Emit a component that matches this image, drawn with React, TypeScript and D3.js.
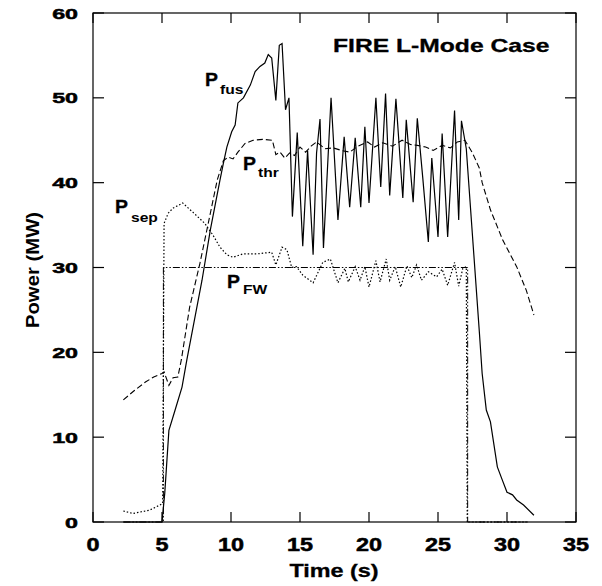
import React from "react";
import * as d3 from "d3";

// time (s), power (MW)
const pFus: [number, number][] = [
  [2.2, 0], [5.0, 0], [5.2, 3.4], [5.5, 10.8], [5.95, 13.2], [6.45, 15.9], [6.8, 19.1],
  [7.9, 28.5], [8.5, 34.4], [9.2, 40.3], [9.45, 42.3], [9.7, 44.2], [10.05, 46.0],
  [10.3, 46.8], [10.5, 49.4], [10.9, 50.0], [11.4, 51.5], [11.75, 53.1], [12.1, 53.7],
  [12.45, 54.1], [12.7, 55.1], [12.95, 54.7], [13.25, 49.7], [13.5, 56.2], [13.7, 56.4],
  [13.95, 48.6], [14.2, 50.0], [14.45, 36.0], [14.8, 45.9], [15.2, 32.5], [15.55, 43.8],
  [15.95, 31.5], [16.2, 43.5], [16.45, 47.5], [16.7, 32.3], [17.25, 50.0], [17.75, 35.6],
  [18.2, 45.4], [18.6, 37.1], [19.0, 45.3], [19.4, 37.1], [19.7, 46.6], [20.0, 37.6],
  [20.5, 50.0], [20.85, 39.5], [21.2, 50.5], [21.5, 38.5], [21.95, 49.9], [22.45, 38.2],
  [22.7, 47.4], [23.2, 37.7], [23.5, 47.6], [23.9, 40.5], [24.3, 33.0], [24.55, 42.9],
  [25.0, 33.6], [25.3, 45.8], [25.7, 33.6], [26.2, 48.5], [26.5, 35.6], [26.7, 47.3],
  [27.05, 44.0], [28.0, 22.3], [28.2, 17.5], [28.5, 13.2], [28.8, 11.8], [29.3, 6.5],
  [29.6, 5.2], [30.0, 3.5], [30.4, 3.2], [30.7, 2.6], [31.2, 2.0], [31.95, 0.8],
];

const pThr: [number, number][] = [
  [2.2, 14.4], [3.0, 15.5], [3.8, 16.5], [4.4, 17.1], [5.0, 17.5], [5.15, 17.7], [5.5, 16.1],
  [5.8, 17.0], [6.15, 17.1], [6.4, 19.1], [7.0, 25.3], [7.75, 30.5], [8.35, 35.2],
  [9.0, 40.3], [9.45, 42.6], [9.8, 43.0], [10.15, 42.8], [10.5, 43.6], [11.0, 44.6],
  [11.6, 45.0], [12.3, 45.1], [13.0, 45.0], [13.25, 43.3], [13.55, 43.6], [13.9, 42.9],
  [14.25, 43.5], [14.6, 43.2], [15.0, 44.2], [15.4, 43.6], [15.8, 44.3], [16.2, 44.8],
  [16.8, 44.0], [17.4, 44.1], [18.0, 43.8], [18.6, 43.6], [19.2, 44.3], [19.9, 44.8],
  [20.4, 44.2], [21.0, 44.7], [21.7, 44.3], [22.4, 45.0], [23.0, 44.5], [23.5, 44.4],
  [24.1, 44.2], [24.65, 43.8], [25.3, 44.4], [25.9, 44.1], [26.4, 44.8], [26.95, 45.0],
  [27.5, 43.5], [28.0, 41.7], [28.2, 40.0], [28.8, 36.8], [29.7, 33.2], [30.7, 30.1],
  [31.4, 27.3], [31.95, 24.4],
];

const pSep: [number, number][] = [
  [2.2, 1.3], [2.9, 1.0], [4.1, 1.4], [4.85, 2.0], [5.05, 2.2], [5.15, 35.2], [5.45, 36.4],
  [5.8, 37.0], [6.5, 37.6], [7.25, 36.5], [8.1, 35.2], [8.7, 33.8], [9.2, 32.4], [9.7, 31.5],
  [10.15, 31.2], [10.85, 31.6], [11.85, 31.6], [12.95, 31.8], [13.25, 30.3], [13.7, 32.4],
  [14.05, 32.1], [14.4, 30.0], [14.75, 30.1], [15.2, 29.1], [15.95, 28.2], [16.65, 30.6],
  [17.2, 31.0], [17.75, 28.2], [18.25, 29.9], [18.5, 28.3], [19.0, 30.1], [19.35, 28.5],
  [19.7, 30.1], [20.0, 27.7], [20.5, 30.8], [20.8, 28.3], [21.25, 31.0], [21.5, 28.5],
  [21.9, 30.1], [22.3, 27.7], [22.75, 30.2], [23.1, 28.8], [23.45, 30.3], [23.8, 28.5],
  [24.3, 29.5], [24.9, 28.9], [25.3, 29.8], [25.7, 27.9], [26.2, 30.6], [26.5, 27.8],
  [26.8, 29.9], [27.05, 30.1], [27.12, 0], [31.5, 0],
];

const pFW: [number, number][] = [
  [2.2, 0], [5.1, 0], [5.1, 30], [27.15, 30], [27.15, 0], [31.5, 0],
];

const xTicks = [0, 5, 10, 15, 20, 25, 30, 35];
const yTicks = [0, 10, 20, 30, 40, 50, 60];

const FONT = "'Liberation Sans', Arial, Helvetica, sans-serif";

function SText(props: {
  x: number; y: number; sx?: number; size: number; anchor?: string; rotate?: number; heavy?: number; children: React.ReactNode;
}) {
  const { x, y, sx = 1, size, anchor = "start", rotate = 0, heavy = 0, children } = props;
  return (
    <text
      transform={`translate(${x},${y}) rotate(${rotate}) scale(${sx},1)`}
      textAnchor={anchor}
      fontSize={size}
      fontWeight="bold"
      fontFamily={FONT}
      fill="#000"
      stroke={heavy ? "#000" : "none"}
      strokeWidth={heavy}
    >
      {children}
    </text>
  );
}

export default function App() {
  const W = 602, H = 586;
  const L = 93, R = 576, T = 13, B = 522;
  const x = d3.scaleLinear().domain([0, 35]).range([L, R]);
  const y = d3.scaleLinear().domain([0, 60]).range([B, T]);
  const line = d3.line<[number, number]>().x(d => x(d[0])).y(d => y(d[1]));
  const tickLen = 10;

  return (
    <svg width={W} height={H} style={{ position: "absolute", left: 0, top: 0, background: "#fff" }}>
      <rect x={0} y={0} width={W} height={H} fill="#fff" />
      {/* series */}
      <path d={line(pFW) || ""} fill="none" stroke="#000" strokeWidth={1} strokeDasharray="7,2,1.5,2,1.5,2" />
      <path d={line(pSep) || ""} fill="none" stroke="#000" strokeWidth={1.2} strokeDasharray="1.5,2" />
      <path d={line(pThr) || ""} fill="none" stroke="#000" strokeWidth={1.1} strokeDasharray="6,3" />
      <path d={line(pFus) || ""} fill="none" stroke="#000" strokeWidth={1.2} />

      {/* frame */}
      <rect x={L} y={T} width={R - L} height={B - T} fill="none" stroke="#000" strokeWidth={1.2} />
      {xTicks.map(t => (
        <g key={"xt" + t}>
          <line x1={x(t)} x2={x(t)} y1={B} y2={B - tickLen} stroke="#000" strokeWidth={1.2} />
          <line x1={x(t)} x2={x(t)} y1={T} y2={T + tickLen} stroke="#000" strokeWidth={1.2} />
          <SText x={x(t)} y={551} size={18} sx={1.3} anchor="middle" heavy={0.5}>{t}</SText>
        </g>
      ))}
      {yTicks.map(v => (
        <g key={"yt" + v}>
          <line x1={L} x2={L + tickLen + 1} y1={y(v)} y2={y(v)} stroke="#000" strokeWidth={1.2} />
          <line x1={R} x2={R - tickLen - 1} y1={y(v)} y2={y(v)} stroke="#000" strokeWidth={1.2} />
          <SText x={78} y={y(v) + 5.5} size={15} sx={1.55} anchor="end" heavy={0.5}>{v}</SText>
        </g>
      ))}

      {/* axis titles */}
      <SText x={334} y={577} size={18} sx={1.3} anchor="middle" heavy={0.3}>Time (s)</SText>
      <SText x={39} y={270} size={19} sx={1.07} anchor="middle" rotate={-90}>Power (MW)</SText>

      {/* chart title */}
      <SText x={333} y={52} size={18} sx={1.37} heavy={0.3}>FIRE L-Mode Case</SText>

      {/* series labels */}
      <SText x={205} y={86} size={18} sx={1.08} heavy={0.3}>P</SText>
      <SText x={220} y={94} size={13} sx={1.2}>fus</SText>
      <SText x={243} y={170} size={18} sx={1.08} heavy={0.3}>P</SText>
      <SText x={258} y={177} size={13} sx={1.2}>thr</SText>
      <SText x={115} y={213} size={18} sx={1.08} heavy={0.3}>P</SText>
      <SText x={131} y={222} size={13} sx={1.2}>sep</SText>
      <SText x={227} y={288} size={18} sx={1.08} heavy={0.3}>P</SText>
      <SText x={243} y={294} size={13} sx={1.2}>FW</SText>
    </svg>
  );
}
